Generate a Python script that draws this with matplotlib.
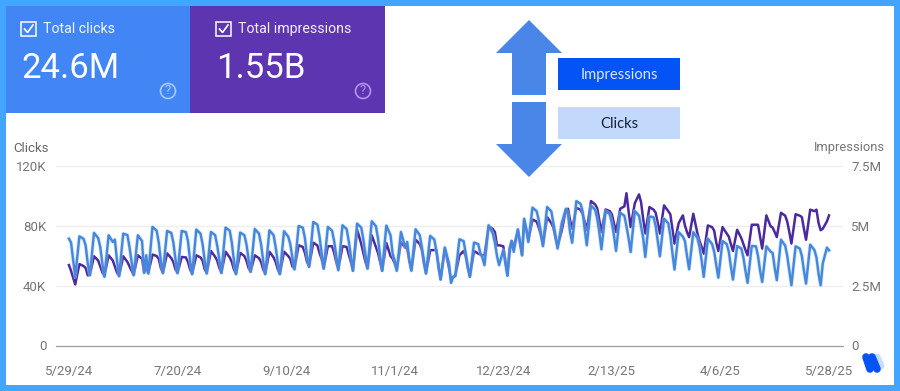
import matplotlib
matplotlib.use('Agg')
import matplotlib.pyplot as plt
from matplotlib.patches import Rectangle, Polygon, Circle

plt.rcParams['font.family'] = ['Roboto', 'DejaVu Sans']

tickDays = [0, 52, 104, 156, 208, 260, 312, 364]
tickDates = ['5/29/24', '7/20/24', '9/10/24', '11/1/24', '12/23/24', '2/13/25', '4/6/25', '5/28/25']
clickTicks = [0, 40, 80, 120]
clickLabels = ['0', '40K', '80K', '120K']
imprTicks = [0, 2.5, 5, 7.5]
imprLabels = ['0', '2.5M', '5M', '7.5M']

# every week is read at 5 days: low, low+2, low+4, low+5, low+6
weekLows = list(range(3, 354, 7))
weekDays = [0, 2, 4, 5, 6]
days = [0, 1] + [t + o for t in weekLows for o in weekDays] + [360, 361, 363, 364]

# clicks, thousands
clicks = [71.6, 69,
    46, 73.2, 71.5, 67, 55,
    47.2, 75.5, 72, 66, 55,
    46.1, 73.9, 69.4, 71, 57,
    46.5, 75, 74, 66, 56,
    47.2, 73.9, 70, 48.7, 60.5,
    48.3, 79.5, 77, 69, 57,
    48.7, 76.8, 75.5, 69, 58,
    48.7, 76.8, 76, 70, 57,
    47.8, 77.7, 75, 68, 57,
    48.3, 76.1, 74, 67, 58,
    48.7, 79, 77, 69, 57,
    47.8, 75.7, 74, 68, 58,
    49.4, 78.1, 75, 68, 57,
    47.8, 77.2, 74, 66, 56,
    47.8, 76.6, 73, 68, 59,
    51, 80.1, 79, 72, 60,
    52.7, 82.8, 81, 73, 62,
    51.6, 79.5, 77, 70, 60,
    50.5, 80.6, 78, 70, 60,
    50.1, 81.7, 79, 71, 61,
    51.6, 83.3, 80, 72, 60,
    50.1, 80.4, 74, 61.7, 57,
    50.1, 76.1, 66, 69.4, 57,
    50.1, 77.9, 74, 66, 57,
    48.3, 73.5, 71, 63, 54,
    44.3, 65.7, 55, 42, 46,
    46.5, 71.2, 70, 62, 53,
    46.1, 69, 68, 62, 59,
    53.9, 80.6, 75, 69, 60,
    53.9, 63.9, 46.7, 62, 70.1,
    62.8, 77.9, 60.5, 85, 78,
    69.4, 92.4, 90, 84, 76,
    66.6, 92.8, 90, 82, 74,
    65, 82, 91.7, 88, 76,
    68.9, 96.8, 95, 90, 78,
    67.2, 93.9, 91, 85, 76,
    64.5, 90.1, 88, 82, 74,
    63.4, 89, 87, 80, 72,
    62.7, 90.1, 87, 80, 72,
    59.4, 86.5, 86, 80, 70,
    59.8, 85, 82, 74, 62,
    50.9, 76, 73, 70, 60,
    51.1, 76, 72, 66, 57,
    46, 71.6, 68, 63, 54,
    45.5, 70, 68, 63, 53,
    44.2, 66.7, 65, 59, 50,
    42, 66.7, 66.5, 60, 50,
    42.6, 66.5, 63, 62, 52,
    43.8, 70.9, 67, 60, 50,
    40.4, 66.5, 65, 60, 50,
    41.5, 67.6, 64, 59, 48,
    40.4, 55, 65.6, 63.8]

# impressions, millions
impressions = [3.37, 3.13,
    2.56, 3.41, 3.33, 3.25, 2.94,
    2.95, 3.74, 3.56, 3.31, 3.06,
    2.91, 3.78, 3.56, 3.31, 3.06,
    2.91, 3.74, 3.5, 3.31, 3.13,
    2.95, 3.78, 3.63, 3.06, 3.25,
    3.03, 3.81, 3.75, 3.63, 3.25,
    3.03, 3.86, 3.66, 3.5, 3.19,
    3.03, 3.71, 3.69, 3.5, 3.19,
    3.0, 3.78, 3.69, 3.56, 3.19,
    3.04, 3.96, 3.72, 3.56, 3.25,
    3.04, 3.93, 3.69, 3.5, 3.19,
    3.0, 3.88, 3.75, 3.56, 3.25,
    3.09, 3.78, 3.66, 3.5, 3.19,
    3.0, 3.93, 3.69, 3.5, 3.19,
    3.0, 3.93, 3.75, 3.63, 3.31,
    3.22, 4.2, 4.13, 3.88, 3.5,
    3.31, 4.31, 4.19, 3.88, 3.63,
    3.22, 4.16, 4.16, 3.88, 3.5,
    3.19, 4.16, 4.13, 3.81, 3.5,
    3.13, 4.86, 4.25, 3.88, 3.5,
    3.23, 4.62, 4.13, 3.88, 3.5,
    3.13, 4.3, 3.75, 3.64, 3.44,
    3.16, 4.34, 4.1, 4.06, 3.56,
    3.16, 4.44, 4.25, 4.0, 3.44,
    3.02, 3.99, 4.0, 3.99, 3.25,
    2.77, 4.06, 3.25, 2.74, 2.88,
    2.91, 3.78, 3.96, 3.75, 3.25,
    2.88, 3.96, 3.85, 3.81, 3.78,
    3.78, 5.0, 4.88, 4.75, 4.19,
    4.2, 4.16, 2.95, 4.06, 4.38,
    4.13, 4.83, 3.78, 5.25, 4.88,
    4.41, 5.28, 5.19, 4.94, 4.63,
    4.2, 5.38, 5.13, 4.94, 4.5,
    4.13, 4.81, 5.69, 5.73, 5.25,
    4.89, 5.77, 5.69, 5.5, 5.19,
    4.83, 6.05, 5.91, 5.75, 5.25,
    4.75, 5.7, 5.63, 5.5, 5.13,
    4.75, 5.73, 5.83, 6.38, 5.63,
    4.96, 5.96, 6.33, 6.0, 5.31,
    4.69, 5.8, 5.69, 5.56, 5.13,
    4.69, 5.87, 5.63, 5.5, 4.88,
    4.27, 5.13, 5.45, 5.03, 4.75,
    4.54, 5.52, 4.69, 4.38, 4.13,
    3.85, 5.03, 4.96, 4.81, 4.31,
    3.96, 4.96, 4.69, 4.56, 4.25,
    3.96, 4.85, 4.5, 4.25, 4.0,
    3.78, 5.06, 5.06, 5.06, 4.56,
    4.06, 5.45, 5.0, 4.94, 4.75,
    4.54, 5.56, 5.44, 5.19, 4.75,
    4.27, 5.5, 5.44, 5.38, 4.88,
    4.43, 5.69, 5.63, 5.69, 5.13,
    4.83, 4.89, 5.2, 5.45]

W, H = 900, 391
grey = '#757575'
blueBorder = '#42A5FF'
clickBlue = '#4285F4'
imprPurple = '#5E35B1'
arrowBlue = '#4A86E8'

fig = plt.figure(figsize=(W / 100, H / 100), dpi=100, facecolor=blueBorder)

# white sheet under the chart
bg = fig.add_axes([0, 0, 1, 1], zorder=0)
bg.set_xlim(0, W)
bg.set_ylim(H, 0)
bg.axis('off')
bg.add_patch(Rectangle((6, 6), 888, 379, fc='white', ec='none'))

ax = fig.add_axes([56 / W, (H - 345.5) / H, 787 / W, 179 / H], zorder=1)
ax.patch.set_alpha(0)
ax2 = ax.twinx()
ax2.set_zorder(2)
ax2.patch.set_alpha(0)

ax.set_xlim(-6.2, 370.7)
ax.set_ylim(0, 120)
ax2.set_ylim(0, 7.5)

ax2.plot(days, impressions, color='#4A2A9E', lw=1.8, zorder=3, solid_joinstyle='round')
# clicks sit on top of the impressions
clicksM = [c / 16 for c in clicks]
ax2.plot(days, clicksM, color='#A9CDF5', lw=2.8, alpha=0.5, zorder=4, solid_joinstyle='round')
ax2.plot(days, clicksM, color='#4487DC', lw=1.7, zorder=5, solid_joinstyle='round')

ax.set_xticks(tickDays, tickDates)
ax.set_yticks(clickTicks, clickLabels)
ax2.set_yticks(imprTicks, imprLabels)
ax.grid(axis='y', color='#EEEEEE', lw=1)
ax.set_axisbelow(True)
ax.tick_params(axis='x', length=0, pad=14, labelcolor=grey, labelsize=9.5)
ax.tick_params(axis='y', length=0, pad=7, labelcolor=grey, labelsize=9.5)
ax2.tick_params(axis='y', length=0, pad=6, labelcolor=grey, labelsize=9.5)
for a in (ax, ax2):
    for side in ['top', 'left', 'right']:
        a.spines[side].set_visible(False)
    a.spines['bottom'].set_color('#9E9E9E')

# cards, arrows, boxes on top, in pixels
deco = fig.add_axes([0, 0, 1, 1], zorder=5)
deco.set_xlim(0, W)
deco.set_ylim(H, 0)
deco.axis('off')
deco.patch.set_alpha(0)


def card(x, w, pad, helpX, color, title, value, helpColor):
    deco.add_patch(Rectangle((x, 6), w, 107, fc=color, ec='none'))
    deco.add_patch(Rectangle((x + pad, 22), 15, 14, fc='none', ec='white', lw=1.1))
    deco.plot([x + pad + 3.5, x + pad + 6.5, x + pad + 12], [29, 32.5, 25], color='white', lw=1.2)
    deco.text(x + pad + 22, 29, title, color='white', fontsize=10.2, va='center', ha='left', alpha=0.92)
    deco.text(x + pad + 0.5, 68.5, value, color='white', fontsize=25, va='center', ha='left')
    deco.add_patch(Circle((helpX, 91), 7.5, fc='none', ec=helpColor, lw=1.2))
    deco.text(helpX, 91, '?', color=helpColor, fontsize=9.5, va='center', ha='center')


card(6, 184, 15, 168, clickBlue, 'Total clicks', '24.6M', '#A8CBFA')
card(190, 195, 26, 363, imprPurple, 'Total impressions', '1.55B', '#B592EE')

deco.add_patch(Polygon([(529, 20), (562, 53), (546, 53), (546, 95), (512, 95), (512, 53), (496, 53)],
                       fc=arrowBlue, ec='none'))
deco.add_patch(Polygon([(529, 177), (562, 144), (546, 144), (546, 102), (512, 102), (512, 144), (496, 144)],
                       fc=arrowBlue, ec='none'))

deco.add_patch(Rectangle((558, 58), 122, 32, fc='#0353F5', ec='none'))
deco.text(619, 74.5, 'Impressions', color='#DCE8FF', fontsize=10.6, ha='center', va='center',
          family=['Lato', 'DejaVu Sans'])
deco.add_patch(Rectangle((558, 107), 122, 32, fc='#C2D9FC', ec='none'))
deco.text(619, 123.5, 'Clicks', color='#14213D', fontsize=10.6, ha='center', va='center',
          family=['Lato', 'DejaVu Sans'])

deco.text(13, 148, 'Clicks', color='#666666', fontsize=9.5, ha='left', va='center')
deco.text(885, 148, 'Impressions', color=grey, fontsize=9.3, ha='right', va='center')

# small logo in the corner
deco.plot([877, 881], [357, 366], color='#C9DBFB', lw=5, solid_capstyle='round')
deco.plot([872, 877], [357, 369], color='#0353F5', lw=5.5, solid_capstyle='round')
deco.plot([866, 870], [357, 369], color='#0353F5', lw=5.5, solid_capstyle='round')

fig.savefig('out.png', dpi=100)
